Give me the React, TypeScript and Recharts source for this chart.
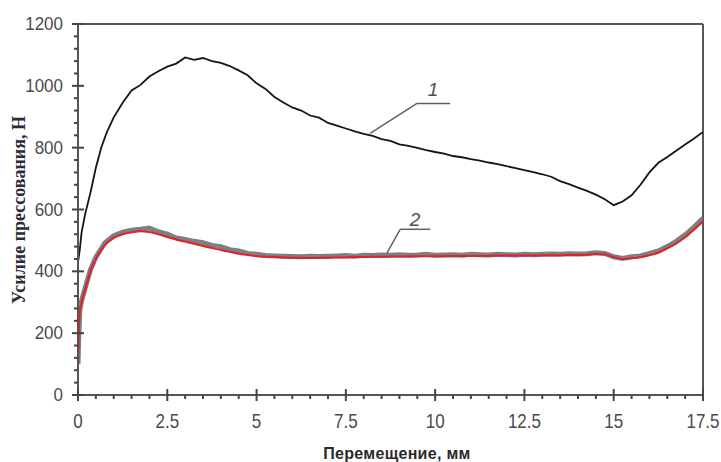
import {
  LineChart,
  Line,
  XAxis,
  YAxis,
  ReferenceLine,
  ReferenceDot,
} from "recharts";

// curve 1 (black)
const disp1 = [
  0, 0.05, 0.1, 0.2, 0.35, 0.5, 0.65, 0.8, 1.0, 1.25, 1.5, 1.75, 2.0, 2.25,
  2.5, 2.75, 3.0, 3.25, 3.5, 3.75, 4.0, 4.25, 4.5, 4.75, 5.0, 5.25, 5.5, 5.75,
  6.0, 6.25, 6.5, 6.75, 7.0, 7.25, 7.5, 7.75, 8.0, 8.25, 8.5, 8.75, 9.0, 9.25,
  9.5, 9.75, 10.0, 10.25, 10.5, 10.75, 11.0, 11.25, 11.5, 11.75, 12.0, 12.25,
  12.5, 12.75, 13.0, 13.25, 13.5, 13.75, 14.0, 14.25, 14.5, 14.75, 15.0, 15.25,
  15.5, 15.75, 16.0, 16.25, 16.5, 16.75, 17.0, 17.25, 17.5,
];
const force1 = [
  430, 470, 525, 585, 655, 735, 800, 848, 898, 945, 985, 1003, 1030, 1047,
  1062, 1072, 1092, 1084, 1090, 1080, 1074, 1064, 1050, 1034, 1008, 990, 964,
  946, 930, 920, 904, 897, 880, 871, 862, 853, 845, 838, 828, 822, 811, 806,
  799, 792, 786, 781, 773, 769, 763, 758, 752, 747, 740, 734, 727, 721, 714,
  706, 692, 682, 671, 660, 648, 633, 614, 626, 646, 680, 720, 751, 770, 790,
  810, 830, 851,
];

// curve 2 (grey band + red fit)
const disp2 = [
  0, 0.02, 0.05, 0.1, 0.2, 0.35, 0.5, 0.75, 1.0, 1.25, 1.5, 1.75, 2.0, 2.25,
  2.5, 2.75, 3.0, 3.25, 3.5, 3.75, 4.0, 4.25, 4.5, 4.75, 5.0, 5.25, 5.5, 5.75,
  6.0, 6.25, 6.5, 6.75, 7.0, 7.25, 7.5, 7.75, 8.0, 8.25, 8.5, 8.75, 9.0, 9.25,
  9.5, 9.75, 10.0, 10.25, 10.5, 10.75, 11.0, 11.25, 11.5, 11.75, 12.0, 12.25,
  12.5, 12.75, 13.0, 13.25, 13.5, 13.75, 14.0, 14.25, 14.5, 14.75, 15.0, 15.25,
  15.5, 15.75, 16.0, 16.25, 16.5, 16.75, 17.0, 17.25, 17.5,
];
const force2Grey = [
  100, 185, 272, 305, 346, 406, 446, 492, 515, 527, 533, 536, 540, 528, 520,
  508, 503, 497, 493, 484, 480, 470, 466, 458, 455, 451, 450, 449, 448, 447,
  449, 448, 449, 450, 451, 449, 452, 451, 453, 452, 454, 452, 453, 455, 452,
  453, 454, 452, 455, 454, 453, 455, 454, 453, 455, 454, 455, 456, 455, 457,
  456, 457, 460, 458, 447, 442, 447, 450, 458, 466, 480, 497, 518, 543, 572,
];
const force2Red = [
  95, 180, 268, 300, 340, 400, 440, 485, 508, 520, 526, 530, 527, 520, 511,
  503, 496, 489, 482, 475, 469, 463, 457, 453, 449, 447, 446, 445, 444, 444,
  443, 444, 444, 445, 445, 446, 446, 447, 447, 448, 448, 448, 449, 449, 449,
  449, 450, 450, 450, 450, 450, 451, 451, 451, 451, 451, 452, 452, 452, 453,
  453, 454, 456, 455, 446, 440, 442, 446, 452, 460, 474, 490, 510, 535, 562,
];

const xTicks = Array.from({ length: 36 }, (_, i) => i * 0.5);
const yTicks = Array.from({ length: 31 }, (_, i) => i * 40);

const curve1 = disp1.map((x, i) => ({ x, y: force1[i] }));
const curve2Grey = disp2.map((x, i) => ({ x, y: force2Grey[i] }));
const curve2Red = disp2.map((x, i) => ({ x, y: force2Red[i] }));

const AXIS = "#555";
const TICK_TEXT = "#4a4a4a";
const FONT = "'Liberation Sans', Arial, sans-serif";

const XTick = (props: any) => {
  const { x, y, payload } = props;
  const v = payload.value as number;
  const major = Math.abs(v / 2.5 - Math.round(v / 2.5)) < 1e-6;
  return (
    <g>
      <line
        x1={x}
        x2={x}
        y1={major ? y - 6 : y}
        y2={major ? y + 6 : y + 4}
        stroke="#444"
        strokeWidth={2}
      />
      {major && (
        <text
          x={0}
          y={0}
          transform={`translate(${x},${y + 33}) scale(1,1.2)`}
          textAnchor="middle"
          fontFamily={FONT}
          fontSize={17}
          fill={TICK_TEXT}
        >
          {v}
        </text>
      )}
    </g>
  );
};

const YTick = (props: any) => {
  const { x, y, payload } = props;
  const v = payload.value as number;
  const major = v % 200 === 0;
  return (
    <g>
      <line
        x1={major ? x - 6 : x - 4}
        x2={major ? x + 6 : x}
        y1={y}
        y2={y}
        stroke="#444"
        strokeWidth={2}
      />
      {major && (
        <text
          x={0}
          y={0}
          transform={`translate(${x - 15},${y + 6}) scale(1,1.1)`}
          textAnchor="end"
          fontFamily={FONT}
          fontSize={17}
          fill={TICK_TEXT}
        >
          {v}
        </text>
      )}
    </g>
  );
};

export default function App() {
  return (
    <div style={{ position: "absolute", left: 0, top: 0, background: "#fff" }}>
      <LineChart
        width={721}
        height={462}
        margin={{ top: 24, right: 18, left: 0, bottom: 0 }}
      >
        <XAxis
          dataKey="x"
          type="number"
          domain={[0, 17.5]}
          ticks={xTicks}
          interval={0}
          tickSize={0}
          tickMargin={0}
          tickLine={false}
          tick={<XTick />}
          height={67}
          axisLine={{ stroke: AXIS, strokeWidth: 2 }}
          allowDataOverflow
          label={{
            content: () => (
              <text
                x={397}
                y={459}
                textAnchor="middle"
                fontFamily={FONT}
                fontSize={16}
                fontWeight="bold"
                fill="#2a2a2a"
                letterSpacing={0.3}
              >
                Перемещение, мм
              </text>
            ),
          }}
        />
        <YAxis
          dataKey="y"
          type="number"
          domain={[0, 1200]}
          ticks={yTicks}
          interval={0}
          tickSize={0}
          tickMargin={0}
          tickLine={false}
          tick={<YTick />}
          width={78}
          axisLine={{ stroke: AXIS, strokeWidth: 2 }}
          allowDataOverflow
          label={{
            content: () => (
              <text
                x={25}
                y={210}
                transform="rotate(-90, 25, 210)"
                textAnchor="middle"
                fontFamily="'Liberation Serif', 'Times New Roman', serif"
                fontWeight="bold"
                fontSize={18}
                fill="#2b2b3a"
              >
                Усилие прессования, Н
              </text>
            ),
          }}
        />
        <ReferenceLine y={1200} stroke={AXIS} strokeWidth={2} />
        <ReferenceLine x={17.5} stroke={AXIS} strokeWidth={2} />

        <Line
          data={curve1}
          dataKey="y"
          type="linear"
          stroke="#151515"
          strokeWidth={1.8}
          dot={false}
          isAnimationActive={false}
        />
        <Line
          data={curve2Grey}
          dataKey="y"
          type="linear"
          stroke="#7f7f7f"
          strokeWidth={5}
          dot={false}
          isAnimationActive={false}
        />
        <Line
          data={curve2Red}
          dataKey="y"
          type="monotone"
          stroke="#e3202a"
          strokeWidth={2}
          dot={false}
          isAnimationActive={false}
        />

        {/* label 1 leader */}
        <ReferenceLine
          segment={[
            { x: 8.18, y: 846 },
            { x: 9.49, y: 943 },
          ]}
          stroke="#606060"
          strokeWidth={1.5}
        />
        <ReferenceLine
          segment={[
            { x: 9.49, y: 943 },
            { x: 10.42, y: 943 },
          ]}
          stroke="#606060"
          strokeWidth={1.5}
        />
        <ReferenceDot
          x={9.94}
          y={990}
          r={0}
          stroke="none"
          label={{
            value: "1",
            position: "center",
            fill: "#505050",
            fontSize: 19,
            fontStyle: "italic",
            fontFamily: FONT,
          }}
        />

        {/* label 2 leader */}
        <ReferenceLine
          segment={[
            { x: 8.65, y: 459 },
            { x: 9.02, y: 536 },
          ]}
          stroke="#606060"
          strokeWidth={1.5}
        />
        <ReferenceLine
          segment={[
            { x: 9.02, y: 536 },
            { x: 9.86, y: 536 },
          ]}
          stroke="#606060"
          strokeWidth={1.5}
        />
        <ReferenceDot
          x={9.44}
          y={570}
          r={0}
          stroke="none"
          label={{
            value: "2",
            position: "center",
            fill: "#505050",
            fontSize: 19,
            fontStyle: "italic",
            fontFamily: FONT,
          }}
        />
      </LineChart>
    </div>
  );
}
